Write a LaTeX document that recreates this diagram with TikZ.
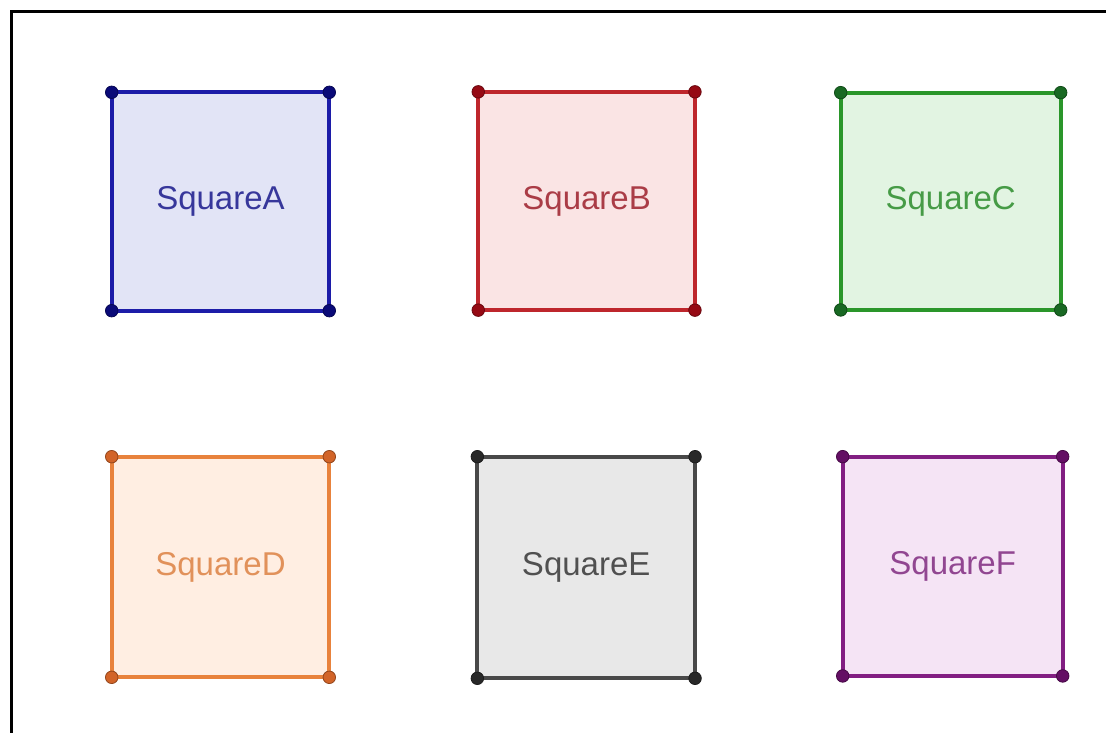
\documentclass[tikz,border=0pt]{standalone}
\usepackage{fontspec}
\setmainfont{Liberation Sans}
\begin{document}
\begin{tikzpicture}[x=1pt,y=-1pt,
  sq/.style={draw=#1line, fill=#1fill, line width=3.8pt, text=#1text,
    inner sep=0pt, outer sep=0pt, minimum width=218pt, minimum height=219pt,
    font=\fontsize{33}{38}\selectfont},
  vtx/.style={circle, fill=#1pt, draw=#1pt!70!black, line width=0.8pt, minimum size=12.5pt, inner sep=0pt}]
\definecolor{Aline}{RGB}{28,28,168}\definecolor{Afill}{RGB}{226,228,246}\definecolor{Atext}{RGB}{55,55,155}\definecolor{Apt}{RGB}{10,10,120}
\definecolor{Bline}{RGB}{190,38,44}\definecolor{Bfill}{RGB}{250,228,228}\definecolor{Btext}{RGB}{170,60,70}\definecolor{Bpt}{RGB}{150,10,20}
\definecolor{Cline}{RGB}{42,150,42}\definecolor{Cfill}{RGB}{226,244,226}\definecolor{Ctext}{RGB}{70,155,70}\definecolor{Cpt}{RGB}{25,105,35}
\definecolor{Dline}{RGB}{232,130,60}\definecolor{Dfill}{RGB}{255,238,226}\definecolor{Dtext}{RGB}{225,145,90}\definecolor{Dpt}{RGB}{210,100,40}
\definecolor{Eline}{RGB}{72,72,72}\definecolor{Efill}{RGB}{232,232,232}\definecolor{Etext}{RGB}{80,80,80}\definecolor{Ept}{RGB}{40,40,40}
\definecolor{Fline}{RGB}{130,30,130}\definecolor{Ffill}{RGB}{245,228,245}\definecolor{Ftext}{RGB}{145,70,145}\definecolor{Fpt}{RGB}{100,15,100}
\clip (0,0) rectangle (1106,733);
\fill[white] (0,0) rectangle (1106,733);
\draw[line width=3.5pt] (11.5,11.5) rectangle (1130,760);
\node[sq=A, minimum width=217.6pt, minimum height=218.4pt] (sqA) at (220.5,201.5) {SquareA};
\node[sq=B, minimum width=216.7pt, minimum height=218.3pt] (sqB) at (586.6,201) {SquareB};
\node[sq=C, minimum width=220pt, minimum height=217.3pt] (sqC) at (950.7,201.3) {SquareC};
\node[sq=D, minimum width=217.6pt, minimum height=220.6pt] (sqD) at (220.5,567) {SquareD};
\node[sq=E, minimum width=217.7pt, minimum height=221.6pt] (sqE) at (586.2,567.5) {SquareE};
\node[sq=F, minimum width=220pt, minimum height=219.3pt] (sqF) at (952.7,566.3) {SquareF};
\foreach \s in {A,B,C,D,E,F}{
  \foreach \c in {north west,north east,south west,south east}{
    \node[vtx=\s] at (sq\s.\c) {};
  }
}
\end{tikzpicture}
\end{document}
